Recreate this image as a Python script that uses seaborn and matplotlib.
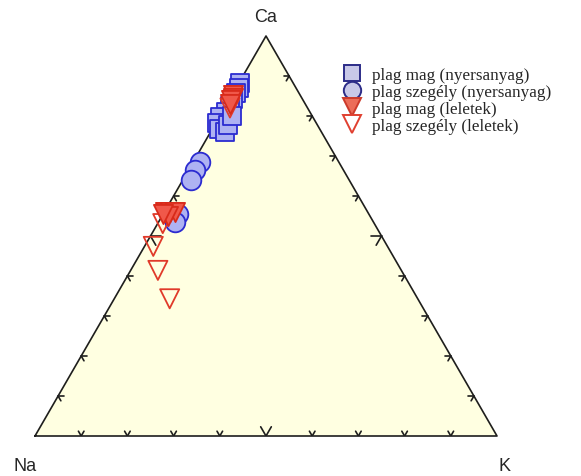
import numpy as np
import pandas as pd
import matplotlib
matplotlib.use('Agg')
import matplotlib.pyplot as plt
from matplotlib.lines import Line2D
import seaborn as sns

# ternary data: An (Ca) and Or (K) in percent, Ab (Na) is the rest
sq_ca = [88.2, 87.0, 85.7, 84.2, 82.5, 81.0, 79.7, 78.2, 76.7, 75.9, 77.7, 80.0]
sq_k = [0.3, 0.6, 0.7, 0.8, 1.0, 0.9, 0.2, 0.3, 1.5, 3.2, 2.9, 2.7]
ci_ca = [68.4, 66.4, 63.9, 55.6, 53.6]
ci_k = [1.5, 1.4, 1.8, 3.1, 3.5]
tf_ca = [85.2, 84.6, 84.0, 83.0, 56.1, 55.9, 56.1, 54.9, 55.4]
tf_k = [0.3, 0.6, 0.4, 0.8, 0.1, 1.3, 2.2, 1.3, 0.0]
to_ca = [82.0, 53.1, 47.4, 41.4, 34.3]
to_k = [1.2, 1.1, 1.9, 5.9, 12.0]

labels = ['plag mag (nyersanyag)', 'plag szegély (nyersanyag)',
          'plag mag (leletek)', 'plag szegély (leletek)']
apex = ['Ca', 'Na', 'K']

H = np.sqrt(3) / 2


def tern(ca, k):
    ca = np.asarray(ca) / 100.0
    k = np.asarray(k) / 100.0
    return k + ca / 2, ca * H


sns.set_style('white')
fig = plt.figure(figsize=(5.81, 4.77), dpi=100)
ax = fig.add_axes([35 / 581, 40 / 477, 462 / 581, 400 / 477])
ax.set_xlim(0, 1)
ax.set_ylim(0, H)
ax.axis('off')

# triangle
tri_x = [0, 1, 0.5, 0]
tri_y = [0, 0, H, 0]
ax.fill(tri_x, tri_y, color='#ffffe1', zorder=0)
ax.plot(tri_x, tri_y, color='#1e1e1e', lw=1.2, zorder=1, clip_on=False)

# chevron ticks along every edge
edges = [((0, 0), (1, 0), (60, 120)),
         ((0, 0), (0.5, H), (0, -60)),
         ((1, 0), (0.5, H), (180, 240))]
for p0, p1, angs in edges:
    for t in np.arange(0.1, 0.95, 0.1):
        px = p0[0] + (p1[0] - p0[0]) * t
        py = p0[1] + (p1[1] - p0[1]) * t
        ln = 0.012 if abs(t - 0.5) > 0.01 else 0.023
        for a in angs:
            r = np.radians(a)
            ax.plot([px, px + ln * np.cos(r)], [py, py + ln * np.sin(r)],
                    color='#1e1e1e', lw=1.2, zorder=1, solid_capstyle='round')

groups = [
    (sq_ca, sq_k, 's', 165, '#aeb2f2', '#2b2bd0'),
    (ci_ca, ci_k, 'o', 200, '#aeb2f2', '#2b2bd0'),
    (to_ca, to_k, 'v', 190, 'none', '#e03a2a'),
    (tf_ca, tf_k, 'v', 190, '#f0584a', '#d82a1a'),
]
for ca, k, mk, s, fc, ec in groups:
    x, y = tern(ca, k)
    df = pd.DataFrame({'x': x, 'y': y})
    sns.scatterplot(data=df, x='x', y='y', marker=mk, s=s, ax=ax,
                    color=fc if fc != 'none' else 'white', edgecolor=ec,
                    linewidth=1.3, zorder=3, legend=False, clip_on=False)
    if fc == 'none':
        ax.collections[-1].set_facecolor('none')
ax.set_xlabel('')
ax.set_ylabel('')

# apex labels
fs = 13
fig.text(266 / 581, 1 - 18 / 477, apex[0], ha='center', va='center',
         family='Liberation Sans', fontsize=fs)
fig.text(25 / 581, 1 - 467 / 477, apex[1], ha='center', va='center',
         family='Liberation Sans', fontsize=fs)
fig.text(505 / 581, 1 - 467 / 477, apex[2], ha='center', va='center',
         family='Liberation Sans', fontsize=fs)

handles = [
    Line2D([], [], ls='', marker='s', ms=11.5, mfc='#c8c8e8', mec='#2c2c88', mew=1.4),
    Line2D([], [], ls='', marker='o', ms=12.5, mfc='#c8c8e8', mec='#2c2c88', mew=1.4),
    Line2D([], [], ls='', marker='v', ms=13, mfc='#ec6c58', mec='#cc3a2a', mew=1.4),
    Line2D([], [], ls='', marker='v', ms=13, mfc='white', mec='#e04030', mew=1.4),
]
fig.legend(handles, labels, loc='upper left',
           bbox_to_anchor=(343 / 581, 1 - 68 / 477),
           frameon=False, prop={'family': 'Liberation Serif', 'size': 12.3},
           handlelength=1.1, handletextpad=0.6, labelspacing=0.06,
           borderpad=0, borderaxespad=0)

fig.savefig('out.png', dpi=100)
